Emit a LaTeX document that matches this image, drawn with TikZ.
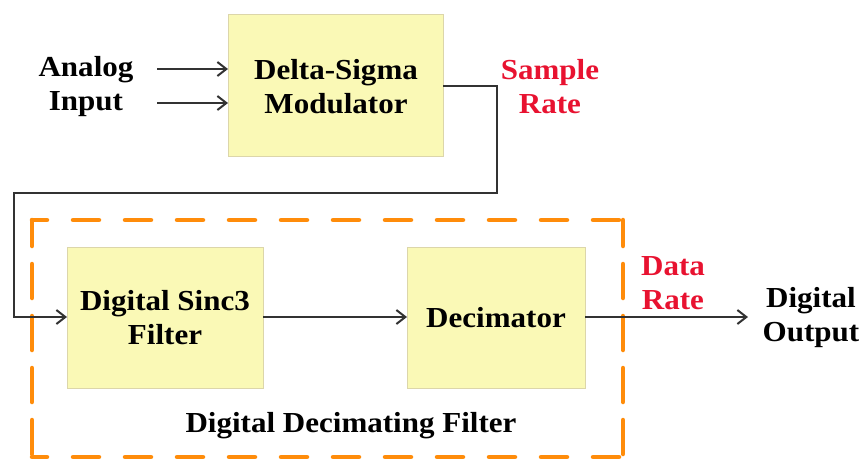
\documentclass[tikz,border=0pt]{standalone}
\usepackage{fontspec}
\setmainfont{Liberation Serif}
\usetikzlibrary{arrows.meta}
\definecolor{boxfill}{RGB}{250,249,182}
\definecolor{boxline}{RGB}{220,214,170}
\definecolor{lbl}{RGB}{232,18,48}
\definecolor{dashor}{RGB}{255,140,10}
\definecolor{wire}{RGB}{50,50,50}
\newcommand{\sx}[1]{\scalebox{1.07}[1]{#1}}
\begin{document}
\begin{tikzpicture}[x=1pt,y=-1pt,
  blk/.style={draw=boxline,line width=1pt,fill=boxfill,inner sep=0pt,outer sep=0pt},
  txt/.style={font=\fontsize{29}{34}\selectfont\bfseries,align=center,inner sep=0pt,text=black},
  rtxt/.style={txt,text=lbl},
  wireline/.style={draw=wire,line width=2.2pt},
  arr/.style={wireline,-{Straight Barb[length=9pt,width=14pt,line width=2pt]}},
  hdash/.style={dashor,line width=4.5pt,line cap=round,dash pattern=on 26pt off 26pt},
  vdash/.style={dashor,line width=4.5pt,line cap=round,dash pattern=on 34pt off 18pt}]
\useasboundingbox (0,0) rectangle (862,459);
% dashed group
\coordinate (g1) at (32,220);
\coordinate (g2) at (623,220);
\coordinate (g3) at (623,457);
\coordinate (g4) at (32,457);
\draw[hdash,dash phase=11pt] (g1) -- (g2);
\draw[hdash,dash phase=11pt] (g4) -- (g3);
\draw[vdash,dash phase=8pt] (g1) -- (g4);
\draw[vdash,dash phase=8pt] (g2) -- (g3);
% blocks
\node[blk,minimum width=215pt,minimum height=142pt,anchor=north west] (ds) at (228,14) {};
\node[blk,minimum width=196pt,minimum height=141pt,anchor=north west] (sinc) at (67,247) {};
\node[blk,minimum width=178pt,minimum height=141pt,anchor=north west] (dec) at (407,247) {};
% texts
\node[txt] (dst) at (336,87) {\sx{Delta-Sigma}\\\sx{Modulator}};
\node[txt] (ain) at (86,87) {\sx{Analog}\\\sx{Input}};
\node[rtxt] (sr) at (550,87) {\sx{Sample}\\\sx{Rate}};
\node[txt] (sinct) at (165,318) {\sx{Digital Sinc3}\\\sx{Filter}};
\node[txt] (dect) at (496,318) {\sx{Decimator}};
\node[rtxt] (dr) at (673,283) {\sx{Data}\\\sx{Rate}};
\node[txt] (dout) at (811,318) {\sx{Digital}\\\sx{Output}};
\node[txt] (ddf) at (351,426) {\sx{Digital Decimating Filter}};
% connectors
\coordinate (a1) at (157,69);
\coordinate (a2) at (157,103);
\draw[arr] (a1) -- (a1 -| ds.west);
\draw[arr] (a2) -- (a2 -| ds.west);
\coordinate (c1) at (497,86);
\coordinate (c2) at (497,193);
\coordinate (c3) at (14,193);
\coordinate (c4) at (14,317);
\draw[arr] (ds.east |- c1) -- (c1) -- (c2) -- (c3) -- (c4) -- (c4 -| sinc.west);
\draw[arr] (sinc.east |- c4) -- (c4 -| dec.west);
\coordinate (o1) at (748,317);
\draw[arr] (dec.east |- o1) -- (o1);
\end{tikzpicture}
\end{document}
